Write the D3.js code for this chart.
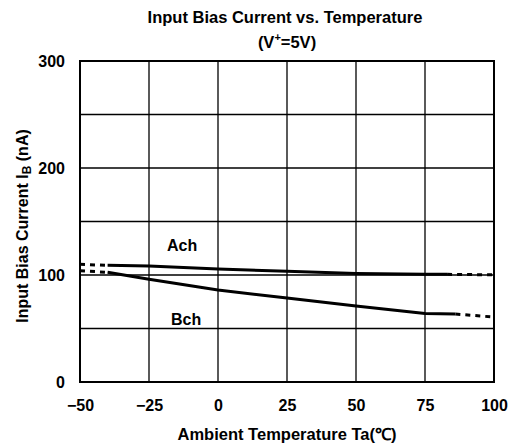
<!DOCTYPE html>
<html>
<head>
<meta charset="utf-8">
<script src="https://cdn.jsdelivr.net/npm/d3@7"></script>
<style>
  body { margin: 0; background: #fff; }
  text { font-family: "Liberation Sans", Arial, sans-serif; fill: #000; }
</style>
</head>
<body>
<div id="chart"></div>
<script>
// data
var xTicks = [-50, -25, 0, 25, 50, 75, 100];
var yTicks = [0, 100, 200, 300];
var yGrid = [0, 50, 100, 150, 200, 250, 300];

var achSolid = [{x: -40, y: 109}, {x: -25, y: 108.4}, {x: 0, y: 105.6}, {x: 25, y: 103.5}, {x: 50, y: 101.5}, {x: 75, y: 100.8}, {x: 83, y: 100.6}];
var achDash1 = [{x: -50, y: 110}, {x: -40, y: 109}];
var achDash2 = [{x: 83, y: 100.6}, {x: 100, y: 100.2}];

var bchSolid = [{x: -40, y: 102.5}, {x: -25, y: 96}, {x: 0, y: 86}, {x: 25, y: 78.5}, {x: 50, y: 71}, {x: 75, y: 64}, {x: 86, y: 63.5}];
var bchDash1 = [{x: -50, y: 104}, {x: -40, y: 102.5}];
var bchDash2 = [{x: 86, y: 63.5}, {x: 100, y: 60.7}];

var width = 517, height = 447;
var m = {left: 80, right: 23, top: 61, bottom: 65};

var svg = d3.select("#chart").append("svg")
    .attr("width", width)
    .attr("height", height);

var x = d3.scaleLinear().domain([-50, 100]).range([m.left, width - m.right]);
var y = d3.scaleLinear().domain([0, 300]).range([height - m.bottom, m.top]);

var line = d3.line()
    .x(function(d) { return x(d.x); })
    .y(function(d) { return y(d.y); });

// grid
svg.selectAll(".vgrid").data(xTicks).enter()
    .append("line").attr("class", "vgrid")
    .attr("x1", function(d) { return x(d); }).attr("x2", function(d) { return x(d); })
    .attr("y1", y(0)).attr("y2", y(300))
    .attr("stroke", "#000").attr("stroke-width", 1.3);
svg.selectAll(".hgrid").data(yGrid).enter()
    .append("line").attr("class", "hgrid")
    .attr("x1", x(-50)).attr("x2", x(100))
    .attr("y1", function(d) { return y(d); }).attr("y2", function(d) { return y(d); })
    .attr("stroke", "#000").attr("stroke-width", 1.3);

svg.append("rect")
    .attr("x", x(-50)).attr("y", y(300))
    .attr("width", x(100) - x(-50)).attr("height", y(0) - y(300))
    .attr("fill", "none").attr("stroke", "#000").attr("stroke-width", 2);

// axes (labels only)
var xAxis = svg.append("g")
    .attr("transform", "translate(0," + (y(0) + 18) + ")")
    .call(d3.axisBottom(x).tickValues(xTicks).tickSize(0).tickFormat(function(d) { return d < 0 ? "\u2212" + (-d) : d; }));
var yAxis = svg.append("g")
    .attr("transform", "translate(" + (x(-50) - 15) + ",0)")
    .call(d3.axisLeft(y).tickValues(yTicks).tickSize(0));
[xAxis, yAxis].forEach(function(a) {
    a.select(".domain").remove();
    a.selectAll("text")
        .attr("font-family", "Liberation Sans, Arial, sans-serif")
        .attr("font-size", "16px")
        .attr("font-weight", "bold");
});
xAxis.selectAll("text").attr("dy", "0.71em").attr("y", 0);
yAxis.selectAll("text").attr("x", 0);

// series
function drawLine(data, dashed) {
    svg.append("path")
        .attr("d", line(data))
        .attr("fill", "none")
        .attr("stroke", "#000")
        .attr("stroke-width", 3)
        .attr("stroke-dasharray", dashed ? "5,5" : null);
}
drawLine(achSolid, false);
drawLine(achDash1, true);
drawLine(achDash2, true);
drawLine(bchSolid, false);
drawLine(bchDash1, true);
drawLine(bchDash2, true);

svg.append("text").attr("x", 167).attr("y", 251)
    .attr("font-size", "16px").attr("font-weight", "bold").text("Ach");
svg.append("text").attr("x", 171).attr("y", 325)
    .attr("font-size", "16px").attr("font-weight", "bold").text("Bch");

// titles
svg.append("text").attr("x", 285).attr("y", 23)
    .attr("text-anchor", "middle").attr("font-size", "16.5px").attr("font-weight", "bold")
    .text("Input Bias Current vs. Temperature");
var sub = svg.append("text").attr("x", 287).attr("y", 48)
    .attr("text-anchor", "middle").attr("font-size", "16.5px").attr("font-weight", "bold");
sub.append("tspan").text("(V");
sub.append("tspan").attr("dy", -7).attr("font-size", "11px").text("+");
sub.append("tspan").attr("dy", 7).text("=5V)");

svg.append("text").attr("x", 287).attr("y", 440)
    .attr("text-anchor", "middle").attr("font-size", "16.5px").attr("font-weight", "bold")
    .text("Ambient Temperature Ta(\u2103)");

var yl = svg.append("text")
    .attr("transform", "translate(28,226) rotate(-90)")
    .attr("text-anchor", "middle").attr("font-size", "16px").attr("font-weight", "bold");
yl.append("tspan").text("Input Bias Current I");
yl.append("tspan").attr("dy", 3).attr("font-size", "12px").text("B");
yl.append("tspan").attr("dy", -3).text(" (nA)");
</script>
</body>
</html>
